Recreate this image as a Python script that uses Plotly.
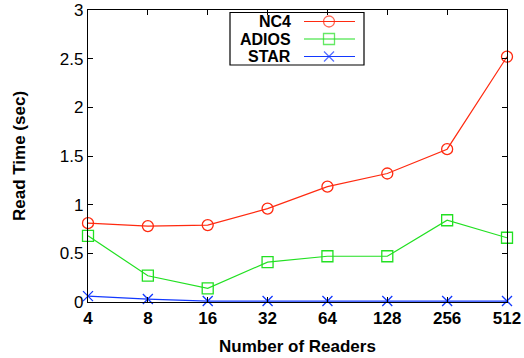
import plotly.graph_objects as go

# Read time per reader count for three I/O methods
readers = ["4", "8", "16", "32", "64", "128", "256", "512"]
nc4 = [0.81, 0.78, 0.79, 0.96, 1.185, 1.32, 1.57, 2.52]
adios = [0.68, 0.27, 0.14, 0.41, 0.47, 0.47, 0.84, 0.66]
star = [0.06, 0.03, 0.01, 0.01, 0.01, 0.01, 0.01, 0.01]
y_ticks = [0, 0.5, 1, 1.5, 2, 2.5, 3]
y_tick_text = ["0", "0.5", "1", "1.5", "2", "2.5", "3"]

series = [
    ("NC4", nc4, "#ff2a10", "circle-open"),
    ("ADIOS", adios, "#22e022", "square-open"),
    ("STAR", star, "#1238ff", "x-thin-open"),
]

FONT = "Liberation Sans, Arial, sans-serif"
FS = 17
W, H = 524, 358
L, R, T, B = 88, 17, 10, 56

fig = go.Figure()
for name, vals, color, sym in series:
    fig.add_trace(go.Scatter(
        x=readers, y=vals, mode="lines+markers", name=name,
        line=dict(color=color, width=1.2),
        marker=dict(symbol=sym, size=11 if sym != "x-thin-open" else 10,
                    color=color, line=dict(color=color, width=1.3)),
        cliponaxis=False, showlegend=False,
    ))

# Key box drawn in figure pixel coordinates on an overlay axis pair
px0, px1 = L, W - R
py0, py1 = T, H - B
key_rows = [21.5, 39, 56.5]
for (name, vals, color, sym), py in zip(series, key_rows):
    fig.add_trace(go.Scatter(
        x=[304, 329, 355], y=[py, py, py], mode="lines+markers",
        xaxis="x2", yaxis="y2",
        line=dict(color=color, width=1.2),
        marker=dict(symbol=sym, size=[0, 11 if sym != "x-thin-open" else 10, 0],
                    color=color, line=dict(color=color, width=1.3)),
        showlegend=False, hoverinfo="skip", cliponaxis=False,
    ))
    fig.add_annotation(x=293, y=py, xref="x2", yref="y2", text="<b>%s</b>" % name,
                       showarrow=False, xanchor="right", yanchor="middle",
                       font=dict(family=FONT, size=16, color="black"))
fig.add_shape(type="rect", xref="x2", yref="y2", x0=230, x1=364, y0=12.5, y1=65,
              line=dict(color="black", width=1.2), fillcolor="rgba(0,0,0,0)")

axis_common = dict(showline=True, linecolor="black", linewidth=1.3, mirror="ticks",
                   ticks="inside", ticklen=5, tickwidth=1, tickcolor="black",
                   showgrid=False, zeroline=False, ticklabeloverflow="allow",
                   automargin=False,
                   tickfont=dict(family=FONT, size=FS, color="black"),
                   tickprefix="<b>", ticksuffix="</b>")

fig.update_layout(
    width=W, height=H,
    margin=dict(l=L, r=R, t=T, b=B),
    paper_bgcolor="white", plot_bgcolor="white",
    xaxis=dict(type="category", range=[0, 7], **axis_common,
               title=dict(text="<b>Number of Readers</b>", standoff=13,
                          font=dict(family=FONT, size=FS, color="black"))),
    yaxis=dict(range=[0, 3], tickvals=y_ticks, ticktext=y_tick_text, **axis_common,
               title=dict(text="<b>Read Time (sec)</b>", standoff=29,
                          font=dict(family=FONT, size=FS, color="black"))),
    xaxis2=dict(range=[px0, px1], overlaying="x", visible=False, fixedrange=True),
    yaxis2=dict(range=[py1, py0], overlaying="y", visible=False, fixedrange=True),
)

fig.write_html("out.html")
